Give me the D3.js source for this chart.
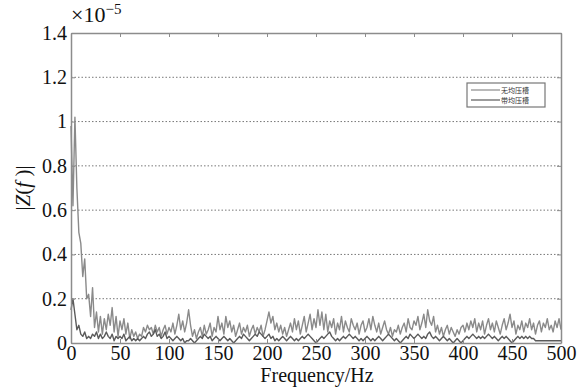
<!DOCTYPE html>
<html>
<head>
<meta charset="utf-8">
<script src="https://cdn.jsdelivr.net/npm/d3@7"></script>
<style>
  body { margin: 0; background: #fff; }
</style>
</head>
<body>
<svg id="chart" width="585" height="387"></svg>
<script>
// frequency axis, Hz (2 Hz resolution)
const freqs = d3.range(0, 501, 2);

// |Z(f)| in units of 1e-5
const noGroove = [
  0.98, 0.62, 1.02, 0.70, 0.50,  0.45, 0.30, 0.38, 0.20, 0.22,
  0.12, 0.25, 0.07, 0.14, 0.05,  0.12, 0.04, 0.11, 0.06, 0.13,
  0.08, 0.16, 0.05, 0.12, 0.03,  0.10, 0.06, 0.11, 0.04, 0.09,
  0.02, 0.06, 0.03, 0.05, 0.02,  0.04, 0.03, 0.07, 0.05, 0.08,
  0.06, 0.07, 0.04, 0.08, 0.05,  0.07, 0.03, 0.06, 0.08, 0.04,
  0.07, 0.05, 0.09, 0.04, 0.08,  0.13, 0.06, 0.10, 0.05, 0.09,
  0.15, 0.08, 0.03, 0.06, 0.02,  0.05, 0.07, 0.03, 0.08, 0.04,
  0.06, 0.09, 0.03, 0.07, 0.05,  0.12, 0.06, 0.09, 0.04, 0.12,
  0.07, 0.10, 0.05, 0.08, 0.03,  0.06, 0.09, 0.04, 0.07, 0.05,
  0.08, 0.03, 0.06, 0.08, 0.04,  0.07, 0.05, 0.08, 0.03, 0.06,
  0.10, 0.14, 0.09, 0.12, 0.06,  0.09, 0.05, 0.08, 0.04, 0.07,
  0.03, 0.06, 0.09, 0.05, 0.11,  0.06, 0.10, 0.04, 0.08, 0.12,
  0.05, 0.09, 0.13, 0.06, 0.11,  0.07, 0.15, 0.08, 0.14, 0.06,
  0.13, 0.05, 0.10, 0.07, 0.11,  0.04, 0.09, 0.06, 0.12, 0.05,
  0.10, 0.07, 0.05, 0.11, 0.08,  0.06, 0.09, 0.04, 0.08, 0.10,
  0.05, 0.07, 0.11, 0.06, 0.12,  0.08, 0.05, 0.09, 0.04, 0.07,
  0.10, 0.06, 0.04, 0.07, 0.03,  0.06, 0.05, 0.08, 0.04, 0.07,
  0.09, 0.05, 0.11, 0.07, 0.06,  0.10, 0.08, 0.12, 0.06, 0.09,
  0.13, 0.07, 0.15, 0.10, 0.08,  0.12, 0.05, 0.08, 0.04, 0.07,
  0.03, 0.06, 0.08, 0.04, 0.07,  0.05, 0.03, 0.06, 0.04, 0.07,
  0.08, 0.05, 0.09, 0.06, 0.10,  0.07, 0.11, 0.05, 0.09, 0.06,
  0.10, 0.04, 0.08, 0.11, 0.06,  0.09, 0.05, 0.10, 0.07, 0.04,
  0.08, 0.11, 0.06, 0.09, 0.13,  0.07, 0.10, 0.04, 0.08, 0.06,
  0.10, 0.05, 0.09, 0.07, 0.11,  0.06, 0.09, 0.04, 0.08, 0.10,
  0.05, 0.09, 0.07, 0.11, 0.06,  0.08, 0.05, 0.10, 0.07, 0.11,
  0.06
];
const withGroove = [
  0.15, 0.20, 0.13, 0.06, 0.08,  0.04, 0.03, 0.05, 0.02, 0.03,
  0.02, 0.04, 0.03, 0.05, 0.02,  0.04, 0.02, 0.03, 0.05, 0.03,
  0.02, 0.04, 0.01, 0.03, 0.02,  0.03, 0.02, 0.04, 0.01, 0.02,
  0.03, 0.01, 0.02, 0.01, 0.02,  0.01, 0.02, 0.03, 0.02, 0.04,
  0.05, 0.03, 0.04, 0.06, 0.03,  0.04, 0.02, 0.03, 0.05, 0.02,
  0.03, 0.02, 0.01, 0.02, 0.03,  0.02, 0.01, 0.02, 0.00, 0.01,
  0.01, 0.02, 0.01, 0.00, 0.01,  0.02, 0.03, 0.02, 0.04, 0.03,
  0.02, 0.03, 0.01, 0.02, 0.03,  0.02, 0.01, 0.02, 0.03, 0.02,
  0.01, 0.02, 0.01, 0.00, 0.01,  0.02, 0.03, 0.02, 0.04, 0.03,
  0.02, 0.01, 0.02, 0.03, 0.04,  0.03, 0.05, 0.04, 0.03, 0.02,
  0.03, 0.04, 0.02, 0.03, 0.01,  0.02, 0.01, 0.02, 0.03, 0.02,
  0.01, 0.02, 0.03, 0.02, 0.01,  0.02, 0.01, 0.02, 0.03, 0.02,
  0.03, 0.04, 0.03, 0.02, 0.01,  0.00, 0.01, 0.02, 0.03, 0.02,
  0.03, 0.04, 0.05, 0.03, 0.02,  0.01, 0.02, 0.01, 0.02, 0.03,
  0.02, 0.03, 0.04, 0.03, 0.02,  0.03, 0.02, 0.01, 0.02, 0.01,
  0.02, 0.03, 0.02, 0.01, 0.02,  0.01, 0.02, 0.03, 0.02, 0.01,
  0.02, 0.03, 0.04, 0.03, 0.02,  0.01, 0.02, 0.01, 0.00, 0.01,
  0.02, 0.03, 0.02, 0.04, 0.03,  0.02, 0.03, 0.04, 0.03, 0.02,
  0.03, 0.02, 0.04, 0.05, 0.03,  0.02, 0.03, 0.02, 0.01, 0.02,
  0.03, 0.02, 0.01, 0.02, 0.01,  0.00, 0.01, 0.02, 0.01, 0.00,
  0.01, 0.02, 0.03, 0.02, 0.03,  0.04, 0.03, 0.02, 0.03, 0.02,
  0.03, 0.02, 0.03, 0.04, 0.03,  0.02, 0.03, 0.02, 0.01, 0.02,
  0.03, 0.02, 0.03, 0.02, 0.01,  0.00, 0.01, 0.02, 0.03, 0.02,
  0.03, 0.02, 0.03, 0.02, 0.03,  0.02, 0.02, 0.01, 0.01, 0.01,
  0.01, 0.01, 0.01, 0.01, 0.01,  0.01, 0.01, 0.01, 0.01, 0.01,
  0.01
];

const xTicks = d3.range(0, 501, 50);
const yTicks = [0, 0.2, 0.4, 0.6, 0.8, 1, 1.2, 1.4];
const legendLabels = ['无均压槽', '带均压槽'];
const seriesColors = ['#8a8a8a', '#5a5a5a'];

const serif = '"Liberation Serif", "DejaVu Serif", serif';
const margin = { top: 33, right: 24, bottom: 44, left: 71 };
const width = 585, height = 387;
const svg = d3.select('#chart');

const x = d3.scaleLinear().domain([0, 500]).range([margin.left, width - margin.right]);
const y = d3.scaleLinear().domain([0, 1.4]).range([height - margin.bottom, margin.top]);

const axisColor = '#8c8c8c';

// dotted horizontal grid
svg.append('g')
  .selectAll('line')
  .data(yTicks.filter(d => d > 0 && d < 1.4))
  .join('line')
  .attr('x1', x(0)).attr('x2', x(500))
  .attr('y1', d => y(d)).attr('y2', d => y(d))
  .attr('stroke', '#777')
  .attr('stroke-width', 1)
  .attr('stroke-dasharray', '1.5,2');

// series lines
const series = [noGroove, withGroove];
const line = d3.line()
  .x((d, i) => x(freqs[i]))
  .y(d => y(d));

svg.append('g')
  .selectAll('path')
  .data(series)
  .join('path')
  .attr('d', d => line(d))
  .attr('fill', 'none')
  .attr('stroke', (d, i) => seriesColors[i])
  .attr('stroke-width', 1.4)
  .attr('stroke-linejoin', 'round');

// axes (MATLAB-style box, ticks inward)
const fmt = d => d3.format('~g')(d);
const noLabel = () => '';
const styleAxis = g => {
  g.attr('font-family', serif).attr('font-size', 20);
  g.select('.domain').attr('stroke', axisColor).attr('stroke-width', 1.5);
  g.selectAll('.tick line').attr('stroke', axisColor);
  g.selectAll('.tick text').attr('fill', '#111');
};

svg.append('g')
  .attr('transform', `translate(0,${y(0)})`)
  .call(d3.axisBottom(x).tickValues(xTicks).tickFormat(fmt).tickSizeInner(-4).tickSizeOuter(0).tickPadding(3))
  .call(styleAxis);

svg.append('g')
  .attr('transform', `translate(0,${y(1.4)})`)
  .call(d3.axisTop(x).tickValues(xTicks).tickFormat(noLabel).tickSizeInner(-4).tickSizeOuter(0))
  .call(styleAxis);

svg.append('g')
  .attr('transform', `translate(${x(0)},0)`)
  .call(d3.axisLeft(y).tickValues(yTicks).tickFormat(fmt).tickSizeInner(-4).tickSizeOuter(0).tickPadding(4))
  .call(styleAxis);

svg.append('g')
  .attr('transform', `translate(${x(500)},0)`)
  .call(d3.axisRight(y).tickValues(yTicks).tickFormat(noLabel).tickSizeInner(-4).tickSizeOuter(0))
  .call(styleAxis);

// exponent label
const expo = svg.append('text')
  .attr('x', x(0))
  .attr('y', 22)
  .attr('font-family', serif)
  .attr('font-size', 22)
  .attr('fill', '#111');
expo.append('tspan').text('×10');
expo.append('tspan').attr('dy', -8).attr('font-size', 15).text('−5');

// axis titles
svg.append('text')
  .attr('x', (x(0) + x(500)) / 2 + 1)
  .attr('y', 382)
  .attr('text-anchor', 'middle')
  .attr('font-family', serif)
  .attr('font-size', 20)
  .attr('fill', '#111')
  .text('Frequency/Hz');

const yl = svg.append('text')
  .attr('transform', `translate(30,${(y(0) + y(1.4)) / 2}) rotate(-90)`)
  .attr('text-anchor', 'middle')
  .attr('font-family', serif)
  .attr('font-size', 21)
  .attr('fill', '#111');
yl.append('tspan').text('|');
yl.append('tspan').attr('font-style', 'italic').text('Z');
yl.append('tspan').text('(');
yl.append('tspan').attr('font-style', 'italic').text('f');
yl.append('tspan').text(' )|');

// legend
const lg = svg.append('g').attr('transform', 'translate(467,83)');
lg.append('rect')
  .attr('width', 78).attr('height', 24)
  .attr('fill', '#fff')
  .attr('stroke', '#777')
  .attr('stroke-width', 1.2);
const rows = lg.selectAll('g.row')
  .data(legendLabels)
  .join('g')
  .attr('class', 'row')
  .attr('transform', (d, i) => `translate(0,${7 + i * 10})`);
rows.append('line')
  .attr('x1', 4).attr('x2', 33)
  .attr('stroke', (d, i) => seriesColors[i])
  .attr('stroke-width', 1.2);
rows.append('text')
  .attr('x', 34).attr('y', 2.5)
  .attr('font-size', 7)
  .attr('fill', '#333')
  .attr('font-family', '"Noto Sans CJK SC", sans-serif')
  .text(d => d);
</script>
</body>
</html>
